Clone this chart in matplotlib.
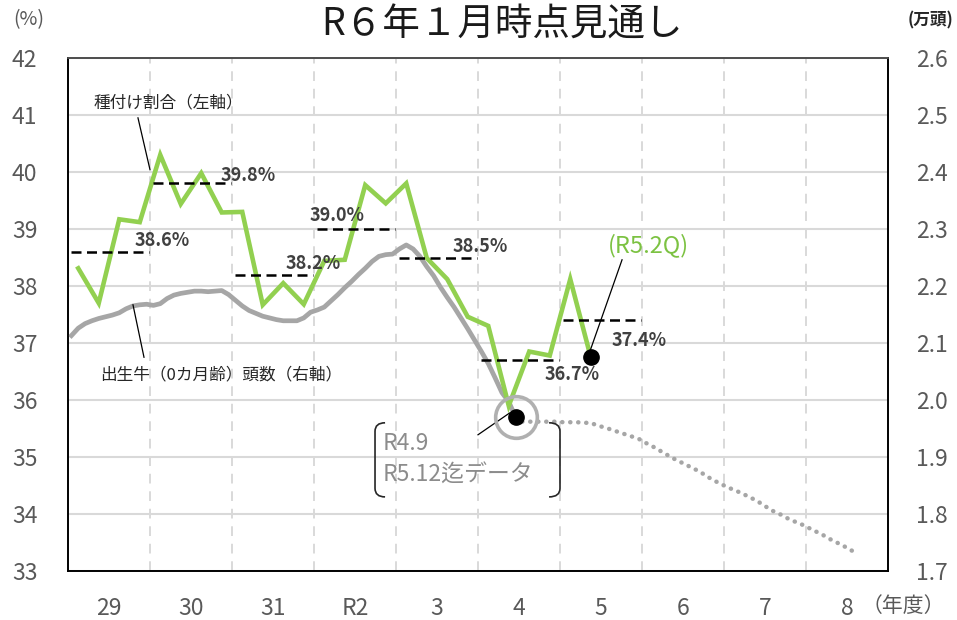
import numpy as np
import matplotlib.pyplot as plt
from matplotlib.path import Path
from matplotlib.patches import PathPatch

plt.rcParams['font.family'] = ['Noto Sans CJK JP', 'DejaVu Sans']

# 年度（29年度〜R8年度）
years = ['29', '30', '31', 'R2', '3', '4', '5', '6', '7', '8']

# 種付け割合（%）四半期ごと、29年度1Q〜R5年度2Q
tanetsuke = [38.31, 37.70, 39.17, 39.12,
             40.30, 39.44, 39.98, 39.29,
             39.30, 37.67, 38.05, 37.68,
             38.44, 38.46, 39.77, 39.45,
             39.80, 38.49, 38.12, 37.46,
             37.30, 35.90, 36.85, 36.78,
             38.12, 36.75]

# 年度平均（%）
avg_rate = [38.6, 39.8, 38.2, 39.0, 38.5, 36.7, 37.4]

# 出生牛（0カ月齢）頭数（万頭）月次、29年4月〜R4年9月
births = [2.113, 2.126, 2.134, 2.139, 2.143, 2.146, 2.149, 2.153, 2.160, 2.165, 2.167, 2.168,
          2.166, 2.169, 2.178, 2.184, 2.187, 2.189, 2.191, 2.191, 2.190, 2.191, 2.192, 2.185,
          2.175, 2.165, 2.157, 2.152, 2.147, 2.144, 2.141, 2.139, 2.139, 2.139, 2.144, 2.154,
          2.158, 2.163, 2.174, 2.185, 2.197, 2.208, 2.220, 2.231, 2.243, 2.252, 2.255, 2.256,
          2.265, 2.272, 2.265, 2.252, 2.234, 2.218, 2.198, 2.180, 2.163, 2.144, 2.125, 2.105,
          2.085, 2.064, 2.039, 2.013, 1.997, 1.970]

# 見通し（万頭）月次、R4年9月〜R8年11月
births_proj = [1.970, 1.962, 1.962, 1.962, 1.962, 1.962, 1.962, 1.961, 1.961, 1.961, 1.960, 1.960,
               1.955, 1.952, 1.948, 1.944, 1.940, 1.936, 1.932, 1.925, 1.919, 1.912, 1.905, 1.898,
               1.892, 1.886, 1.880, 1.874, 1.866, 1.859, 1.853, 1.847, 1.842, 1.837, 1.831, 1.825,
               1.818, 1.810, 1.803, 1.798, 1.791, 1.786, 1.781, 1.775, 1.769, 1.763, 1.756, 1.750,
               1.744, 1.737, 1.731]

GREEN = '#92D050'
GRAY = '#A6A6A6'
TXT = '#595959'

x_q = np.arange(len(tanetsuke)) * 3 + 1.5
x_m = np.arange(len(births)) + 0.5
x_p = np.arange(len(births_proj)) + x_m[-1]

fig = plt.figure(figsize=(9.57, 6.2), dpi=100)
ax = fig.add_axes([68 / 957, 1 - 571 / 620, 820 / 957, 513 / 620])
ax2 = ax.twinx()
ax.set_zorder(2)
ax.patch.set_visible(False)

# 背景の罫線（右軸側に描く）
for v in np.arange(1.7, 2.61, 0.1):
    ax2.axhline(v, color='#D9D9D9', lw=1.5, zorder=0)
for k in range(1, len(years)):
    ax2.axvline(k * 12, color='#D9D9D9', lw=1.4, ls=(0, (5, 4)), zorder=0)

# 出生牛頭数（右軸）
ax2.plot(x_m, births, color=GRAY, lw=3.4, solid_joinstyle='round', zorder=3)
ax2.plot(x_p, births_proj, color=GRAY, lw=3.2, ls=(0, (0.05, 1.75)),
         dash_capstyle='round', zorder=3)

# 種付け割合（左軸）
ax.plot(x_q, tanetsuke, color=GREEN, lw=3.3, solid_joinstyle='miter', zorder=3)

# 年度平均の破線とラベル
pct_pos = [(9.7, 0.2), (22.4, 0.13), (31.8, 0.2), (35.4, 0.24),
           (56.3, 0.19), (69.7, -0.25), (79.6, -0.35)]
for k, (v, (lx, dy)) in enumerate(zip(avg_rate, pct_pos)):
    ax.plot([k * 12 + 0.4, k * 12 + 11.8], [v, v], color='black', lw=1.8,
            ls=(0, (4, 2.2)), zorder=4)
    ax.text(lx, v + dy, f'{v:.1f}%', fontsize=13, fontweight='bold',
            color='#404040', ha='left', va='center', zorder=5)

# 終点のマーカー
ax.plot(x_q[-1], tanetsuke[-1], 'o', color='black', ms=11, zorder=6)
ax.plot(x_m[-1], births[-1], 'o', ms=30, mfc='none', mec='#B0B0B0', mew=2.6,
        transform=ax2.transData, zorder=6)
ax.plot(x_m[-1], births[-1], 'o', color='black', ms=11,
        transform=ax2.transData, zorder=7)

# 系列の注記
ax.text(3.66, 41.21, '種付け割合（左軸）', fontsize=12, color='#262626',
        ha='left', va='center')
ax.plot([10.24, 12.0], [40.95, 40.04], color='black', lw=0.9, zorder=5)
ax.text(4.68, 36.44, '出生牛（0カ月齢）頭数（右軸）', fontsize=12, color='#262626',
        ha='left', va='center')
ax.plot([9.51, 11.12], [37.67, 36.75], color='black', lw=0.9, zorder=5)

ax.text(79.0, 38.72, '(R5.2Q)', fontsize=17, color='#7CC242',
        ha='left', va='center')
ax.plot([76.25, 81.08], [36.81, 38.46], color='black', lw=0.9, zorder=5)

ax.text(46.1, 35.24, 'R4.9', fontsize=16.5, color='#8C8C8C', ha='left', va='center')
ax.text(46.1, 34.68, 'R5.12迄データ', fontsize=16.5, color='#8C8C8C',
        ha='left', va='center')
ax.plot([60.0, 64.6], [35.39, 35.77], color='black', lw=0.9, zorder=5)

# 注記を囲む括弧
def bracket(x0, x_tip, top, bottom, r=0.15):
    verts = [(x_tip, top), (x0, top), (x0, top - r),
             (x0, bottom + r), (x0, bottom), (x_tip, bottom)]
    codes = [Path.MOVETO, Path.CURVE3, Path.CURVE3,
             Path.LINETO, Path.CURVE3, Path.CURVE3]
    ax.add_patch(PathPatch(Path(verts, codes), fill=False, ec='#262626',
                           lw=1.2, zorder=5))

bracket(44.93, 46.4, 35.6, 34.3)
bracket(72.0, 70.4, 35.6, 34.3)

# 軸の設定
ax.set_xlim(0, 120)
ax.set_ylim(33, 42)
ax2.set_ylim(1.7, 2.6)
ax.set_yticks(range(33, 43))
ax2.set_yticks(np.round(np.arange(1.7, 2.61, 0.1), 1))
ax2.set_yticklabels([f'{v:.1f}' for v in np.arange(1.7, 2.61, 0.1)])
ax.set_xticks([k * 12 + 6 for k in range(len(years))])
ax.set_xticklabels(years)

ax.tick_params(axis='y', length=0, pad=22, labelsize=16.5, labelcolor=TXT)
ax2.tick_params(axis='y', length=0, pad=20, labelsize=16.5, labelcolor=TXT)
ax.tick_params(axis='x', length=0, pad=19, labelsize=16.5, labelcolor=TXT)

for a in (ax, ax2):
    for s in a.spines.values():
        s.set_color('black')
        s.set_linewidth(1.2)
ax.spines['top'].set_color('#595959')

fig.text(502 / 957, 1 - 25 / 620, 'R６年１月時点見通し', fontsize=27,
         color='#1A1A1A', ha='center', va='center')
fig.text(13 / 957, 1 - 20 / 620, '(%)', fontsize=14, color=TXT,
         ha='left', va='center')
fig.text(953 / 957, 1 - 20 / 620, '(万頭)', fontsize=12, fontweight='bold',
         color='#262626', ha='right', va='center')
fig.text(862 / 957, 1 - 606 / 620, '（年度）', fontsize=15, color=TXT,
         ha='left', va='center')

fig.savefig('out.png', dpi=100, facecolor='white')
